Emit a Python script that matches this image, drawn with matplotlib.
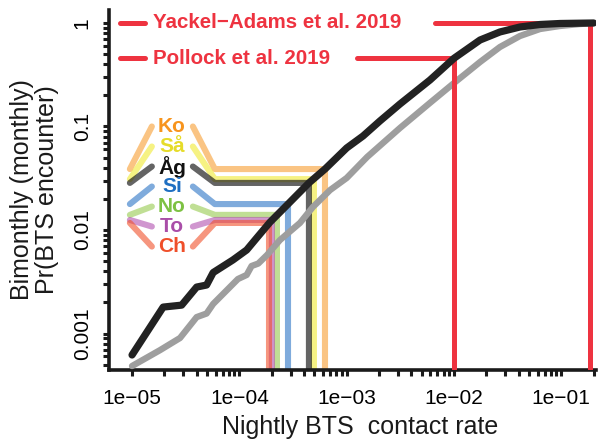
import matplotlib
matplotlib.use("Agg")
import matplotlib.pyplot as plt
import numpy as np
from matplotlib.ticker import FixedLocator, FixedFormatter, NullFormatter

plt.rcParams['font.family'] = ['Liberation Sans', 'DejaVu Sans']

# encounter probability vs nightly contact rate
black_rate = [1.0e-05, 1.95e-05, 2.9e-05, 4.0e-05, 4.95e-05, 5.7e-05, 8.7e-05, 1.17e-04,
              1.45e-04, 1.93e-04, 2.84e-04, 4.45e-04, 6.28e-04, 1.0e-03, 1.42e-03, 2.04e-03,
              3.14e-03, 5.97e-03, 1.0e-02, 1.75e-02, 2.68e-02, 4.12e-02, 6.33e-02, 9.72e-02, 0.2]
black_prob = [6.2e-04, 1.80e-03, 1.88e-03, 2.81e-03, 2.94e-03, 3.88e-03, 5.13e-03, 6.41e-03,
              8.37e-03, 1.19e-02, 1.78e-02, 2.85e-02, 3.88e-02, 6.2e-02, 8.09e-02, 0.113,
              0.165, 0.281, 0.456, 0.685, 0.819, 0.915, 0.967, 0.989, 1.0]

gray_rate = [1.0e-05, 1.82e-05, 2.8e-05, 4.0e-05, 4.95e-05, 5.7e-05, 9.7e-05, 1.17e-04,
             1.30e-04, 1.5e-04, 1.81e-04, 2.39e-04, 3.67e-04, 4.85e-04, 7.0e-04, 1.0e-03,
             1.55e-03, 3.14e-03, 5.97e-03, 1.0e-02, 1.75e-02, 2.68e-02, 4.12e-02, 6.33e-02,
             9.72e-02, 0.149, 0.2]
gray_prob = [4.85e-04, 6.9e-04, 9.05e-04, 1.44e-03, 1.56e-03, 1.93e-03, 3.36e-03, 3.68e-03,
             4.49e-03, 4.74e-03, 5.73e-03, 8.0e-03, 1.17e-02, 1.67e-02, 2.43e-02, 3.18e-02,
             5.07e-02, 9.68e-02, 0.169, 0.263, 0.42, 0.586, 0.749, 0.875,
             0.936, 0.978, 0.997]

sites = ["Ko", "Så", "Åg", "Si", "No", "To", "Ch"]
site_rate = [6.28e-04, 4.95e-04, 4.45e-04, 2.84e-04, 2.24e-04, 2.01e-04, 1.89e-04]
site_prob = [0.0388, 0.031, 0.0285, 0.0178, 0.0140, 0.0125, 0.0117]
site_line = ['#F7941D', '#F0EA30', '#1A1A1A', '#2A73C5', '#8DC63F', '#B150B0', '#F0502A']
site_alpha = [0.55, 0.6, 0.68, 0.6, 0.55, 0.6, 0.6]
site_text = ['#F7941D', '#E6DC2A', '#111111', '#1F6FC2', '#7DC143', '#A94EA8', '#EF4F2A']

studies = ["Yackel\u2212Adams et al. 2019", "Pollock et al. 2019"]
study_rate = [0.185, 0.01]
study_prob = [1.0, 0.456]
study_line_start = [6.65e-03, 1.25e-03]

red = '#EE3340'

fig = plt.figure(figsize=(6.12, 4.41), dpi=100)
ax = fig.add_axes([109 / 612, 71 / 441, 487 / 612, 360 / 441])
ax.set_xscale('log')
ax.set_yscale('log')
ax.set_xlim(6.1e-06, 0.2105)
ax.set_ylim(4.44e-04, 1.335)
ybot = ax.get_ylim()[0]

# site brackets: label in the middle, lines fan out then run to the curve
label_y = 10 ** np.linspace(-1.0, -2.16, len(sites))
xl_out, xl_in, x_mid, xr_in, xr_out = 9.55e-06, 1.53e-05, 2.35e-05, 3.69e-05, 5.91e-05
for i, s in enumerate(sites):
    c = site_line[i]
    ax.plot([xl_out, xl_in], [site_prob[i], label_y[i]], color=c, alpha=site_alpha[i], lw=4.4,
            solid_capstyle='round', zorder=2)
    ax.plot([xr_in, xr_out, site_rate[i], site_rate[i]],
            [label_y[i], site_prob[i], site_prob[i], ybot], color=c, alpha=site_alpha[i],
            lw=4.4, solid_capstyle='round', solid_joinstyle='round', zorder=2)
    ax.text(x_mid, label_y[i], s, color=site_text[i], fontsize=15, fontweight='bold',
            ha='center', va='center', zorder=5)

ax.plot(gray_rate, gray_prob, color='#9E9E9E', lw=4.6, solid_capstyle='round',
        solid_joinstyle='round', zorder=3)

# published estimates
for i, s in enumerate(studies):
    ax.plot([7.7e-06, 1.32e-05], [study_prob[i]] * 2, color=red, lw=3.6,
            solid_capstyle='round', zorder=4)
    ax.text(1.57e-05, study_prob[i], s, color=red, fontsize=14.8, fontweight='bold',
            ha='left', va='center', zorder=5)
    ax.plot([study_line_start[i], study_rate[i], study_rate[i]],
            [study_prob[i], study_prob[i], ybot], color=red, lw=3.6,
            solid_capstyle='round', zorder=4)

ax.plot(black_rate, black_prob, color='#222222', lw=5.2, solid_capstyle='round',
        solid_joinstyle='round', zorder=6)

# axes: left and bottom only
for side in ['top', 'right']:
    ax.spines[side].set_visible(False)
for side in ['left', 'bottom']:
    ax.spines[side].set_linewidth(2.6)
    ax.spines[side].set_color('#1A1A1A')
    ax.spines[side].set_capstyle('projecting')

xmaj = [1e-05, 1e-04, 1e-03, 1e-02, 1e-01]
xmaj_labels = ["1e\u221205", "1e\u221204", "1e\u221203", "1e\u221202", "1e\u221201"]
xmin = [m * d for d in [1e-05, 1e-04, 1e-03, 1e-02] for m in range(2, 10)] + [0.2]
ymaj = [1e-03, 1e-02, 1e-01, 1]
ymaj_labels = ["0.001", "0.01", "0.1", "1"]
ymin = [m * d for d in [1e-04, 1e-03, 1e-02, 1e-01] for m in range(2, 10) if m * d > 4.5e-04]

ax.xaxis.set_major_locator(FixedLocator(xmaj))
ax.xaxis.set_major_formatter(FixedFormatter(xmaj_labels))
ax.xaxis.set_minor_locator(FixedLocator(xmin))
ax.xaxis.set_minor_formatter(NullFormatter())
ax.yaxis.set_major_locator(FixedLocator(ymaj))
ax.yaxis.set_major_formatter(FixedFormatter(ymaj_labels))
ax.yaxis.set_minor_locator(FixedLocator(ymin))
ax.yaxis.set_minor_formatter(NullFormatter())

ax.tick_params(which='both', direction='out', length=4.5, width=2.2, color='#1A1A1A')
ax.tick_params(axis='x', which='major', labelsize=15, pad=9)
ax.tick_params(axis='y', which='major', labelsize=15, pad=8, labelrotation=90)
for lab in ax.get_yticklabels():
    lab.set_va('center')

fig.text(360 / 612, 1 - 427 / 441, "Nightly BTS  contact rate", fontsize=18,
         ha='center', va='center', color='#1A1A1A')
fig.text(22 / 612, 1 - 190 / 441, "Bimonthly (monthly)", fontsize=18, rotation=90,
         ha='center', va='center', color='#1A1A1A')
fig.text(47 / 612, 1 - 190 / 441, "Pr(BTS encounter)", fontsize=18, rotation=90,
         ha='center', va='center', color='#1A1A1A')

fig.savefig("out.png", dpi=100)
